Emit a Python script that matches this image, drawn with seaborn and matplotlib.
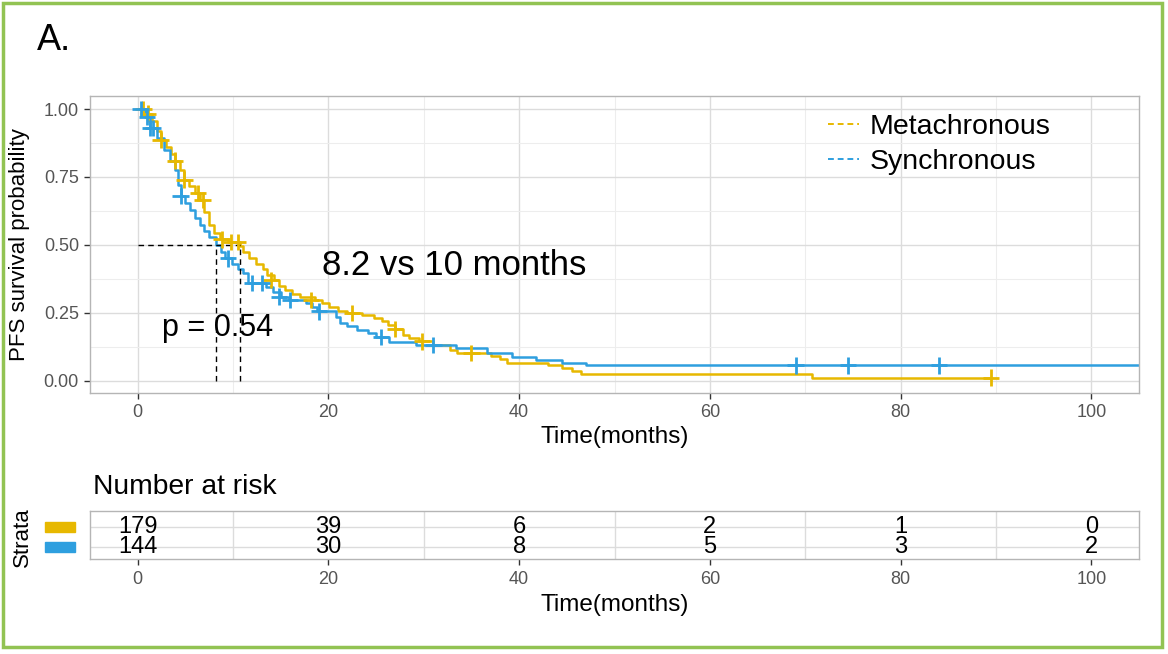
import numpy as np
import pandas as pd
import matplotlib
matplotlib.use("Agg")
import matplotlib.pyplot as plt
from matplotlib.lines import Line2D
from matplotlib.patches import Rectangle
from matplotlib.ticker import MultipleLocator
import seaborn as sns


# survival steps (time in months, survival after the step)
meta_time = [0, 0.9, 1.5, 2.0, 2.4, 3.0, 3.5, 3.9, 4.4, 4.9, 5.4, 6.0, 6.5, 7.0, 7.5, 8.0,
             8.6, 9.5, 10.7, 11.0, 11.7, 12.4, 13.1, 13.6, 14.3, 14.8, 15.4, 16.2, 17.0,
             18.6, 19.3, 20.1, 21.0, 22.0, 23.5, 24.8, 25.6, 26.3, 27.0, 27.8, 28.5, 29.5,
             31.0, 32.7, 33.5, 37.0, 38.0, 38.7, 43.0, 44.5, 45.5, 46.5, 70.7, 89.5]
meta_surv = [1.0, 0.983, 0.955, 0.92, 0.886, 0.86, 0.835, 0.81, 0.775, 0.74, 0.715, 0.69,
             0.665, 0.62, 0.575, 0.545, 0.52, 0.51, 0.495, 0.475, 0.45, 0.43, 0.41, 0.39,
             0.37, 0.35, 0.335, 0.32, 0.31, 0.298, 0.285, 0.27, 0.258, 0.25, 0.243, 0.23,
             0.22, 0.205, 0.19, 0.17, 0.158, 0.145, 0.133, 0.115, 0.103, 0.092, 0.08, 0.064,
             0.058, 0.047, 0.036, 0.025, 0.012, 0.012]

sync_time = [0, 0.8, 1.3, 2.0, 2.8, 3.4, 3.9, 4.2, 4.5, 5.0, 5.5, 6.0, 6.5, 7.0, 7.5, 8.2,
             8.7, 9.2, 9.9, 10.5, 11.0, 11.6, 13.5, 14.2, 15.0, 15.9, 17.7, 18.3, 18.8,
             20.8, 21.2, 22.0, 23.0, 24.2, 25.0, 26.4, 29.2, 33.4, 36.6, 39.3, 41.8, 44.5,
             47.0, 107]
sync_surv = [1.0, 0.972, 0.93, 0.895, 0.85, 0.81, 0.775, 0.72, 0.68, 0.655, 0.63, 0.60,
             0.575, 0.55, 0.53, 0.50, 0.475, 0.45, 0.43, 0.41, 0.395, 0.36, 0.345, 0.327,
             0.31, 0.298, 0.285, 0.27, 0.255, 0.235, 0.213, 0.2, 0.187, 0.175, 0.162, 0.143,
             0.132, 0.12, 0.103, 0.088, 0.077, 0.066, 0.057, 0.057]

# censor marks
meta_cens_t = [0.6, 1.1, 2.4, 3.9, 4.9, 6.3, 6.8, 8.8, 9.8, 10.5, 14.0, 18.2, 22.5, 27.0, 29.8, 35.0, 89.5]
meta_cens_s = [1.0, 0.983, 0.886, 0.81, 0.74, 0.69, 0.665, 0.52, 0.51, 0.51, 0.37, 0.298, 0.25, 0.19, 0.145, 0.103, 0.012]
sync_cens_t = [0.3, 1.0, 1.3, 1.6, 4.5, 9.5, 12.0, 13.0, 14.8, 16.0, 19.0, 25.5, 31.0, 69.0, 74.5, 84.0]
sync_cens_s = [1.0, 0.972, 0.93, 0.93, 0.68, 0.45, 0.36, 0.36, 0.31, 0.298, 0.255, 0.162, 0.132, 0.057, 0.057, 0.057]

groups = ["Metachronous", "Synchronous"]
colors = ["#E7B800", "#2E9FDF"]
risk_times = [0, 20, 40, 60, 80, 100]
risk_meta = [179, 39, 6, 2, 1, 0]
risk_sync = [144, 30, 8, 5, 3, 2]
medians = [8.2, 10.7]

W, H = 1168, 654


def fx(x):
    return x / W


def fy(y):
    return 1 - y / H


def style_spines(a):
    for sp in a.spines.values():
        sp.set_visible(True)
        sp.set_color("#B5B5B5")
        sp.set_linewidth(1.0)


def main():
    sns.set_theme(style="whitegrid")
    plt.rcParams["font.family"] = ["Liberation Sans", "DejaVu Sans"]
    plt.rcParams["text.color"] = "black"
    plt.rcParams["axes.labelcolor"] = "black"

    curves = pd.concat([
        pd.DataFrame({"time": meta_time, "surv": meta_surv, "group": groups[0]}),
        pd.DataFrame({"time": sync_time, "surv": sync_surv, "group": groups[1]}),
    ])
    cens = pd.concat([
        pd.DataFrame({"time": meta_cens_t, "surv": meta_cens_s, "group": groups[0]}),
        pd.DataFrame({"time": sync_cens_t, "surv": sync_cens_s, "group": groups[1]}),
    ])
    pal = dict(zip(groups, colors))

    fig = plt.figure(figsize=(W / 100, H / 100), dpi=100)
    ax = fig.add_axes([fx(90), fy(393), fx(1139 - 90), (393 - 96) / H])
    tab = fig.add_axes([fx(90), fy(559), fx(1139 - 90), (559 - 511) / H])

    # main survival panel
    sns.lineplot(data=curves, x="time", y="surv", hue="group", palette=pal,
                 drawstyle="steps-post", estimator=None, sort=False,
                 linewidth=1.8, legend=False, ax=ax)
    sns.scatterplot(data=cens, x="time", y="surv", hue="group", palette=pal,
                    marker="+", s=140, linewidth=2.0, legend=False, ax=ax, zorder=4)

    # median lines
    ax.plot([0, max(medians)], [0.5, 0.5], ls=(0, (4, 3)), color="black", lw=1.0)
    for m in medians:
        ax.plot([m, m], [0, 0.5], ls=(0, (4, 3)), color="black", lw=1.0)

    ax.set_xlim(-5, 105)
    ax.set_ylim(-0.045, 1.048)
    ax.set_xticks([0, 20, 40, 60, 80, 100])
    ax.set_yticks([0, 0.25, 0.5, 0.75, 1.0])
    ax.set_yticklabels(["0.00", "0.25", "0.50", "0.75", "1.00"])
    ax.xaxis.set_minor_locator(MultipleLocator(10))
    ax.yaxis.set_minor_locator(MultipleLocator(0.125))
    ax.grid(which="major", color="#DCDCDC", lw=1.0)
    ax.grid(which="minor", color="#EDEDED", lw=0.8)
    ax.tick_params(which="major", length=4, width=1, color="#333333", labelcolor="#555555",
                   labelsize=13, pad=4, bottom=True, left=True)
    ax.tick_params(which="minor", length=0)
    style_spines(ax)
    ax.set_xlabel("Time(months)", fontsize=17.5)
    ax.set_ylabel("PFS survival probability", fontsize=16)
    ax.xaxis.set_label_coords(0.5, -(437 - 393) / 297, transform=ax.transAxes)
    ax.yaxis.set_label_coords(-(90 - 20) / 1049, 0.5, transform=ax.transAxes)
    ax.xaxis.label.set_va("center")
    ax.yaxis.label.set_va("center")

    ax.text(19.3, 0.426, "8.2 vs 10 months", fontsize=25, ha="left", va="center", color="black")
    ax.text(2.6, 0.195, "p = 0.54", fontsize=22, ha="left", va="center", color="black")

    handles = [Line2D([0], [0], color=c, ls=(0, (3, 2)), lw=1.4) for c in colors]
    ax.legend(handles, groups, loc="upper left",
              bbox_to_anchor=((828 - 90) / 1049, 1 - (114 - 96) / 297),
              frameon=False, fontsize=20.5, handlelength=1.1, handletextpad=0.35,
              labelspacing=0.33, borderaxespad=0, borderpad=0)

    # number at risk table
    tab.set_xlim(-5, 105)
    tab.set_ylim(0.4, 2.8)
    for t, a, b in zip(risk_times, risk_meta, risk_sync):
        tab.text(t, 2, str(a), ha="center", va="center", fontsize=17)
        tab.text(t, 1, str(b), ha="center", va="center", fontsize=17)
    tab.set_xticks(risk_times)
    tab.set_yticks([1, 2])
    tab.set_yticklabels([])
    tab.xaxis.set_minor_locator(MultipleLocator(10))
    tab.grid(False)
    tab.grid(which="minor", axis="x", color="#DCDCDC", lw=1.0)
    tab.grid(which="major", axis="y", color="#DCDCDC", lw=1.0)
    tab.tick_params(axis="x", which="major", length=4, width=1, color="#333333",
                    labelcolor="#555555", labelsize=13, pad=5, bottom=True)
    tab.tick_params(axis="y", length=0)
    tab.tick_params(which="minor", length=0)
    style_spines(tab)
    tab.set_xlabel("Time(months)", fontsize=17.5)
    tab.xaxis.set_label_coords(0.5, -(605 - 559) / 48, transform=tab.transAxes)
    tab.xaxis.label.set_va("center")
    tab.set_ylabel("")

    fig.text(fx(93), fy(487), "Number at risk", fontsize=20.3, ha="left", va="center")
    fig.text(fx(22), fy(537), "Strata", fontsize=16, rotation=90, ha="center", va="center")
    for yy, c in zip([527, 547], colors):
        fig.patches.append(Rectangle((fx(45), fy(yy + 5)), fx(30), 10 / H, color=c,
                                     transform=fig.transFigure, figure=fig))

    fig.text(fx(37), fy(40), "A.", fontsize=26, ha="left", va="center")

    # green frame around the panel
    fig.patches.append(Rectangle((fx(3), fy(647)), fx(1162 - 3), (647 - 3) / H, fill=False,
                                 ec="#92C353", lw=2.5, transform=fig.transFigure, figure=fig))

    fig.savefig("out.png", dpi=100, facecolor="white")


if __name__ == "__main__":
    main()
